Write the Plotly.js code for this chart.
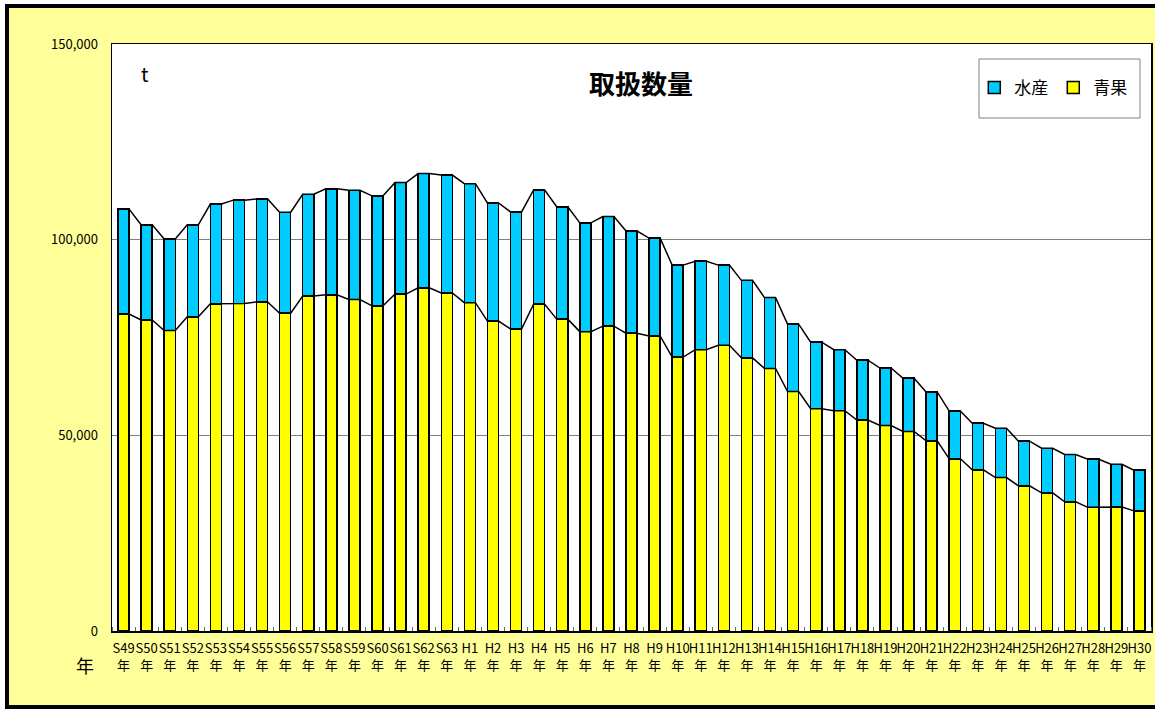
<!DOCTYPE html>
<html><head><meta charset="utf-8">
<script src="https://cdn.plot.ly/plotly-3.0.1.min.js"></script>
<style>
html,body{margin:0;padding:0;overflow:hidden;background:#fff;width:1155px;height:709px;}
#wrap{position:absolute;left:5px;top:4px;width:1160px;height:697px;border:4px solid #000;background:#FFFF99;}
#chart{position:absolute;left:0;top:0;width:1150px;height:697px;}
</style></head>
<body><div id="wrap"><div id="chart"></div></div>
<script>
const categories = ["S49","S50","S51","S52","S53","S54","S55","S56","S57","S58","S59","S60","S61","S62","S63",
 "H1","H2","H3","H4","H5","H6","H7","H8","H9","H10","H11","H12","H13","H14","H15","H16","H17","H18","H19","H20",
 "H21","H22","H23","H24","H25","H26","H27","H28","H29","H30"];
const seika = [81000,79500,76800,80300,83600,83700,84100,81200,85600,85900,84700,83100,86100,87700,86400,
 83900,79200,77200,83500,79700,76500,77900,76100,75400,70000,71900,73000,69800,67100,61200,56800,56300,53900,52500,51000,
 48600,44000,41200,39200,37100,35300,33000,31600,31700,30700];
const suisan = [26800,24300,23400,23500,25500,26400,26300,25800,26000,27100,27900,28100,28500,29200,30100,
 30400,30200,29900,29200,28700,27800,28000,26100,25000,23500,22600,20500,19800,18100,17200,17000,15600,15300,14700,13600,
 12500,12200,11900,12600,11400,11400,12100,12300,10900,10400];
const yearSuffix = "年";

const FONT = '"Noto Sans CJK JP", "Noto Sans", sans-serif';
const BW = 0.48;
const idx = categories.map((c,i)=>i);
const totals = seika.map((v,i)=>v+suisan[i]);

function seriesLine(vals){
  const xs=[], ys=[];
  vals.forEach((v,i)=>{ xs.push(i-BW/2, i+BW/2); ys.push(v, v); });
  return {type:'scatter', mode:'lines', x:xs, y:ys, showlegend:false, hoverinfo:'skip',
          line:{color:'#000', width:1.5}, cliponaxis:false};
}

const traces = [
  {type:'bar', name:'青果', x:idx, y:seika, width:BW, marker:{color:'#FFFF00', line:{color:'#000', width:1.5}}},
  {type:'bar', name:'水産', x:idx, y:suisan, width:BW, marker:{color:'#00CCFF', line:{color:'#000', width:1.5}}},
  seriesLine(seika),
  seriesLine(totals)
];

const layout = {
  width:1150, height:697,
  paper_bgcolor:'#FFFF99', plot_bgcolor:'#FFFFFF',
  margin:{l:103, r:8, t:36, b:74},
  barmode:'stack',
  font:{family:FONT, color:'#000', size:12},
  showlegend:true,
  legend:{orientation:'h', traceorder:'reversed', x:0.982, xanchor:'right', y:0.925, yanchor:'middle',
          bgcolor:'rgba(0,0,0,0)', font:{family:FONT, size:17, color:'#000'}, itemwidth:30},
  xaxis:{range:[-0.5, categories.length-0.5], tickmode:'array', tickvals:idx, tickangle:0,
         ticktext:categories.map(c=>c+'<br>'+yearSuffix), ticks:'', showgrid:false, zeroline:false,
         showline:true, linecolor:'#000', linewidth:1.5, mirror:true, ticklabelstandoff:5,
         tickfont:{family:FONT, size:13, color:'#000'},
         minor:{tickmode:'linear', tick0:-0.5, dtick:1, ticks:'inside', ticklen:4, tickcolor:'#666', showgrid:false}},
  yaxis:{range:[0,150000], tickmode:'linear', tick0:0, dtick:50000, tickformat:',', ticks:'',
         showgrid:true, gridcolor:'#808080', gridwidth:1, zeroline:false,
         showline:true, linecolor:'#000', linewidth:1.5, mirror:true, ticklabelstandoff:10,
         tickfont:{family:FONT, size:13, color:'#000'}},
  shapes:[
    {type:'rect', xref:'paper', yref:'paper', x0:(970-103)/1039, x1:(1131-103)/1039,
     y0:1-(110-36)/587, y1:1-(51-36)/587, line:{color:'#808080', width:1}, fillcolor:'#FFFFFF', layer:'below'}
  ],
  annotations:[
    {text:'<b>取扱数量</b>', xref:'paper', yref:'paper', x:0.509, y:1-(74-36)/587,
     showarrow:false, font:{family:FONT, size:26, color:'#000'}, xanchor:'center', yanchor:'middle'},
    {text:'t', xref:'paper', yref:'paper', x:(136-103)/1039, y:1-(65-36)/587,
     showarrow:false, font:{family:FONT, size:20, color:'#000'}, xanchor:'center', yanchor:'middle'},
    {text:yearSuffix, xref:'paper', yref:'paper', x:(76-103)/1039, y:-(657-623)/587,
     showarrow:false, font:{family:FONT, size:18, color:'#000'}, xanchor:'center', yanchor:'middle'}
  ]
};

Plotly.newPlot('chart', traces, layout, {displayModeBar:false, staticPlot:true});
</script></body></html>
